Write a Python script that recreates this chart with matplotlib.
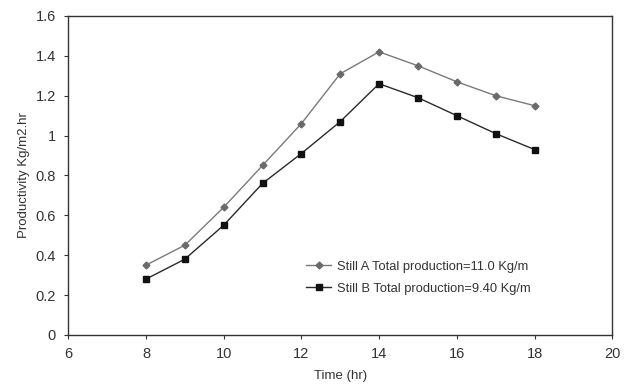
import matplotlib
matplotlib.use("Agg")
import matplotlib.pyplot as plt

plt.rcParams['font.family'] = ['Liberation Sans', 'DejaVu Sans']

time_hr = [8, 9, 10, 11, 12, 13, 14, 15, 16, 17, 18]
still_a = [0.35, 0.45, 0.64, 0.85, 1.06, 1.31, 1.42, 1.35, 1.27, 1.20, 1.15]
still_b = [0.28, 0.38, 0.55, 0.76, 0.91, 1.07, 1.26, 1.19, 1.10, 1.01, 0.93]
label_a = "Still A Total production=11.0 Kg/m"
label_b = "Still B Total production=9.40 Kg/m"

fig = plt.figure(figsize=(6.26, 3.89), dpi=100)
ax = fig.add_axes([0.109, 0.139, 0.869, 0.82])

ax.plot(time_hr, still_a, color="#7a7a7a", lw=1.0, marker="D", ms=3.5,
        mfc="#6a6a6a", mec="#6a6a6a", label=label_a)
ax.plot(time_hr, still_b, color="#2a2a2a", lw=1.0, marker="s", ms=5,
        mfc="#111111", mec="#111111", label=label_b)

ax.set_xlim(6, 20)
ax.set_ylim(0, 1.6)
ax.set_xticks([6, 8, 10, 12, 14, 16, 18, 20])
ax.set_yticks([0, 0.2, 0.4, 0.6, 0.8, 1.0, 1.2, 1.4, 1.6])
ax.set_yticklabels(["0", "0.2", "0.4", "0.6", "0.8", "1", "1.2", "1.4", "1.6"])
ax.tick_params(labelsize=10.5, length=3, width=0.8, colors="#333333", pad=6)
for s in ax.spines.values():
    s.set_color("#333333")
    s.set_linewidth(1.0)

ax.set_xlabel("Time (hr)", fontsize=9.5, color="#333333", labelpad=6)
ax.set_ylabel("Productivity Kg/m2.hr", fontsize=9.5, color="#333333", labelpad=4)

ax.legend(loc="lower left", bbox_to_anchor=(0.415, 0.09), frameon=False,
          fontsize=9.3, handlelength=2.0, handletextpad=0.4, labelspacing=0.75,
          labelcolor="#333333")

fig.savefig("out.png", dpi=100)
